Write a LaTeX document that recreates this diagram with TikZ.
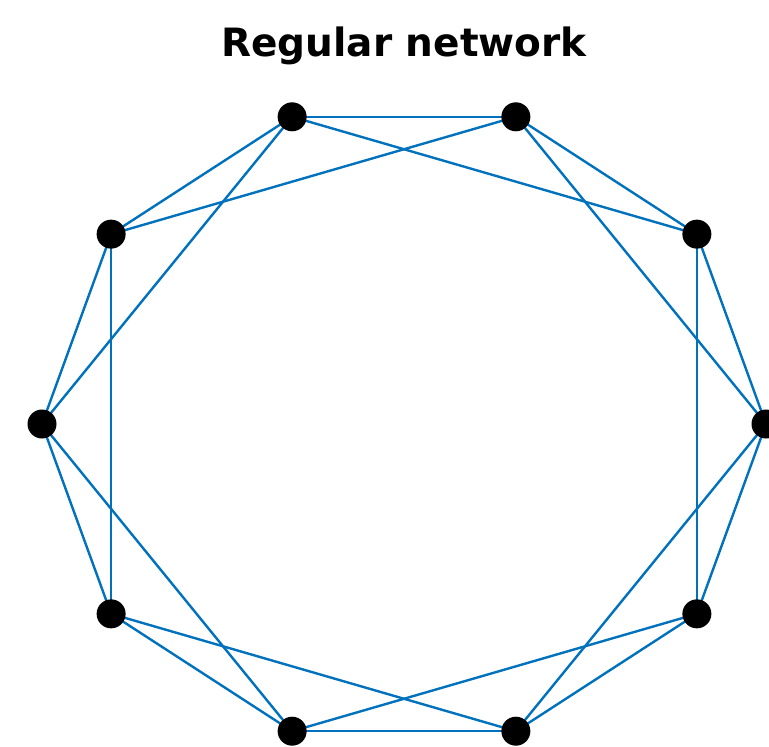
\documentclass[tikz,border=0pt]{standalone}
\usepackage{fontspec}
\newfontfamily\titlefont{DejaVu Sans}
\definecolor{mblue}{RGB}{0,114,189}
\begin{document}
\begin{tikzpicture}[x=1pt,y=-1pt,
  vtx/.style={circle,fill=black,inner sep=0pt,minimum size=29pt},
  edge/.style={mblue,line width=2.4pt}]
\useasboundingbox (0,0) rectangle (769,747);
\clip (0,0) rectangle (769,747);
\node[font=\titlefont\bfseries\fontsize{39}{44}\selectfont,anchor=base,inner sep=0pt] (title) at (404,56) {Regular network};
\foreach \i in {0,...,9} {
  \coordinate (p\i) at ({404+362*cos(36*\i)},{424-323*sin(36*\i)});
}
\foreach \i in {0,...,9} {
  \pgfmathtruncatemacro{\a}{mod(\i+1,10)}
  \pgfmathtruncatemacro{\b}{mod(\i+2,10)}
  \draw[edge] (p\i) -- (p\a);
  \draw[edge] (p\i) -- (p\b);
}
\foreach \i in {0,...,9} {
  \node[vtx] (n\i) at (p\i) {};
}
\end{tikzpicture}
\end{document}
